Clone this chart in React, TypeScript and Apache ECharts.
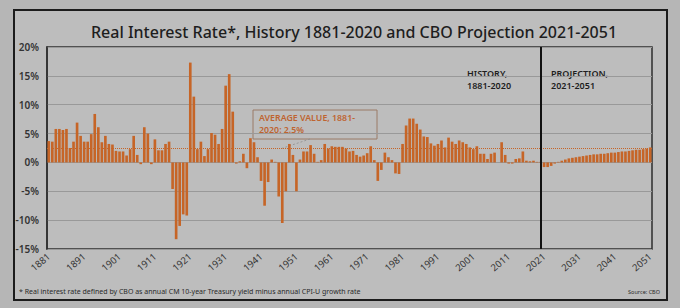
import React, { useEffect, useRef } from "react";
import * as echarts from "echarts";

const years: string[] = [];
for (let y = 1881; y <= 2051; y++) years.push(String(y));

const history1881to1920 = [
  3.7, 3.6, 5.8, 5.8, 5.6, 5.8, 2.5, 3.6, 6.9, 4.6,
  3.6, 3.6, 4.9, 8.4, 6.1, 3.5, 4.6, 3.2, 3.1, 2.0,
  1.9, 1.9, 1.2, 2.3, 4.6, 1.3, -0.3, 6.1, 5.0, -0.3,
  4.0, 2.1, 2.1, 3.2, 3.6, -4.6, -13.3, -11.0, -9.0, -9.2,
];
const history1921to1960 = [
  17.3, 11.4, 2.3, 3.6, 1.1, 2.3, 5.1, 4.8, 3.2, 5.8,
  13.3, 15.3, 8.8, -0.2, 0.2, 1.5, -1.0, 4.2, 3.5, 0.9,
  -3.2, -7.5, -3.4, 0.5, 0.1, -5.9, -10.5, -5.0, 3.2, 1.3,
  -5.0, 0.5, 1.9, 1.9, 3.0, 1.5, 0.1, 0.4, 3.2, 2.4,
];
const history1961to2020 = [
  2.8, 2.7, 2.7, 2.7, 2.4, 1.9, 2.0, 1.3, 1.0, 1.2,
  1.6, 2.8, 0.4, -3.2, -1.3, 1.7, 0.9, 0.4, -1.9, -2.0,
  3.2, 6.4, 7.6, 7.6, 6.7, 5.7, 4.5, 4.4, 3.3, 2.9,
  3.2, 3.8, 2.6, 4.3, 3.6, 3.2, 3.8, 3.5, 3.2, 2.6,
  2.3, 2.8, 1.5, 1.5, 0.6, 1.5, 1.7, 0.0, 3.5, 1.3,
  -0.2, -0.2, 0.6, 0.7, 1.9, 0.3, 0.2, 0.3, 0.1, 0.1,
];
const projection2021to2051 = [
  -0.8, -0.8, -0.6, -0.2, 0.1, 0.3, 0.5, 0.7, 0.8, 0.9,
  1.0, 1.1, 1.2, 1.3, 1.4, 1.4, 1.5, 1.5, 1.6, 1.7,
  1.7, 1.8, 1.9, 1.9, 2.0, 2.1, 2.2, 2.2, 2.3, 2.4, 2.6,
];
const averageValue = 2.5;
const splitYear = "2020";

const values = [
  ...history1881to1920,
  ...history1921to1960,
  ...history1961to2020,
  ...projection2021to2051,
];

export default function App() {
  const ref = useRef<HTMLDivElement>(null);
  useEffect(() => {
    if (!ref.current) return;
    const chart = echarts.init(ref.current, undefined, { renderer: "svg" });
    const orange = "#c66527";
    const dark = "#1e1e1e";
    const boldSmall = "600 9px 'Noto Sans'";
    const annoFont = "600 8.8px 'Noto Sans'";
    chart.setOption({
      animation: false,
      backgroundColor: "#b6b6b6",
      grid: {
        left: 47,
        right: 28,
        top: 47,
        bottom: 59,
        show: true,
        borderColor: "#2e2e2e",
        borderWidth: 1.5,
        backgroundColor: "transparent",
      },
      graphic: [
        {
          type: "rect",
          z: -10,
          silent: true,
          shape: { x: 14, y: 10, width: 653, height: 290 },
          style: { fill: "#bdbdbd", stroke: "#1c1c1c", lineWidth: 2 },
        },
        {
          type: "text",
          x: 354,
          y: 32,
          style: {
            text: "Real Interest Rate*, History 1881-2020 and CBO Projection 2021-2051",
            fill: dark,
            font: "500 16px 'Noto Sans'",
            align: "center",
            verticalAlign: "middle",
          },
        },
        {
          type: "rect",
          shape: { x: 253, y: 110, width: 124, height: 29 },
          style: { fill: "transparent", stroke: "#9a7a66", lineWidth: 1 },
        },
        { type: "text", x: 259, y: 118, style: { text: "AVERAGE VALUE, 1881-", fill: "#bf6430", font: annoFont, verticalAlign: "middle" } },
        { type: "text", x: 259, y: 130.2, style: { text: "2020: 2.5%", fill: "#bf6430", font: annoFont, verticalAlign: "middle" } },
        {
          type: "line",
          shape: { x1: 310, y1: 139, x2: 280, y2: 149 },
          style: { stroke: "#8f8f8f", lineWidth: 0.8, lineDash: [2, 2] },
        },
        { type: "text", x: 467, y: 73, style: { text: "HISTORY,", fill: dark, font: boldSmall, verticalAlign: "middle" } },
        { type: "text", x: 467, y: 85.4, style: { text: "1881-2020", fill: dark, font: boldSmall, verticalAlign: "middle" } },
        { type: "text", x: 551, y: 73, style: { text: "PROJECTION,", fill: dark, font: boldSmall, verticalAlign: "middle" } },
        { type: "text", x: 551, y: 85.4, style: { text: "2021-2051", fill: dark, font: boldSmall, verticalAlign: "middle" } },
        {
          type: "text",
          x: 19,
          y: 291,
          style: {
            text: "* Real interest rate defined by CBO as annual CM 10-year Treasury yield minus annual CPI-U growth rate",
            fill: "#2a2a2a",
            font: "7px 'Noto Sans'",
            verticalAlign: "middle",
          },
        },
        {
          type: "text",
          x: 660,
          y: 292,
          style: {
            text: "Source: CBO",
            fill: "#2a2a2a",
            font: "5.5px 'Noto Sans'",
            align: "right",
            verticalAlign: "middle",
          },
        },
      ],
      xAxis: {
        type: "category",
        data: years,
        axisLine: { show: false },
        axisTick: { show: false },
        axisLabel: {
          show: true,
          interval: 9,
          rotate: 40,
          color: "#333",
          fontSize: 9.5,
          fontFamily: "Noto Sans",
          margin: 6,
        },
        splitLine: { show: false },
      },
      yAxis: {
        type: "value",
        min: -15,
        max: 20,
        interval: 5,
        axisLine: { show: true, lineStyle: { color: "#2e2e2e", width: 1.5 } },
        axisTick: { show: false },
        axisLabel: {
          formatter: "{value}%",
          color: "#333",
          fontSize: 10,
          fontWeight: 600,
          fontFamily: "Noto Sans",
          margin: 8,
        },
        splitLine: { lineStyle: { color: "#999", width: 1 } },
      },
      series: [
        {
          type: "bar",
          data: values,
          barCategoryGap: "25%",
          itemStyle: { color: orange },
          markLine: {
            silent: true,
            symbol: "none",
            label: { show: false },
            data: [
              { yAxis: averageValue, lineStyle: { color: orange, type: "dotted", width: 1 } },
              { xAxis: splitYear, lineStyle: { color: "#111", type: "solid", width: 2 } },
            ],
          },
        },
      ],
    });
    return () => chart.dispose();
  }, []);
  return (
    <div
      ref={ref}
      style={{ position: "fixed", left: 0, top: 0, width: 680, height: 308 }}
    />
  );
}
